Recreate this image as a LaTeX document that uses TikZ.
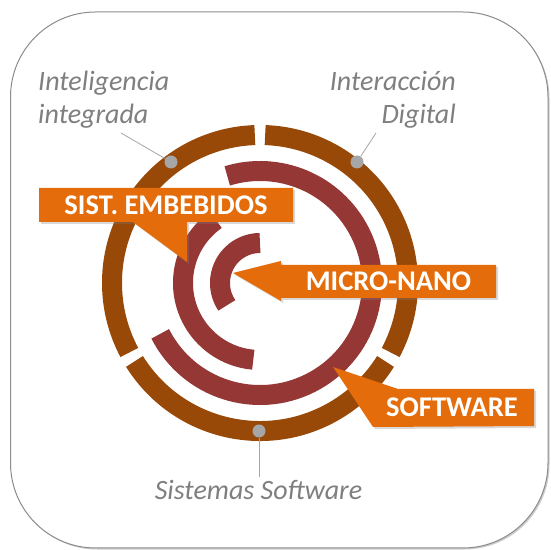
\documentclass[tikz,border=0pt]{standalone}
\usepackage{fontspec}
\setmainfont{Carlito}
\usetikzlibrary{shadows}
\definecolor{ringbrown}{HTML}{984807}
\definecolor{ringred}{HTML}{953735}
\definecolor{callorange}{HTML}{E46C0A}
\definecolor{labelgrey}{HTML}{7F7F7F}
\definecolor{dotgrey}{HTML}{A6A6A6}
\definecolor{framegrey}{HTML}{8C8C8C}
\begin{document}
\begin{tikzpicture}[x=1pt,y=1pt,
  ringarc/.style={line width=20pt},
  outerring/.style={ringarc, draw=ringbrown},
  innerring/.style={ringarc, draw=ringred},
  callout/.style={fill=callorange, drop shadow={shadow xshift=2pt, shadow yshift=-2pt, opacity=0.3}},
  calltext/.style={text=white, font=\fontsize{28.5}{32}\selectfont\bfseries, inner sep=0pt},
  greylabel/.style={text=labelgrey, font=\fontsize{28}{33}\selectfont\itshape, inner sep=0pt},
  greydot/.style={circle, fill=dotgrey, minimum size=13pt, inner sep=0pt},
  leader/.style={draw=dotgrey, line width=0.8pt}
]
\useasboundingbox (0,0) rectangle (550,550);
\fill[white] (0,0) rectangle (550,550);
\draw[framegrey, line width=1pt, fill=white, rounded corners=85pt,
  drop shadow={shadow xshift=1.5pt, shadow yshift=-1.5pt, opacity=0.4}] (10.5,2) rectangle (548,538);

\coordinate (c) at (260,267);
% outer ring segments
\draw[outerring] (c) ++(92:148) arc[start angle=92, end angle=208, radius=148];
\draw[outerring] (c) ++(212:148) arc[start angle=212, end angle=328, radius=148];
\draw[outerring] (c) ++(-28:148) arc[start angle=-28, end angle=88, radius=148];

% leaders and dots
\coordinate (l1) at (121,417);
\coordinate (l2) at (376,417);
\coordinate (l3) at (259,73);
\node[greydot] (d1) at (171,388) {};
\node[greydot] (d2) at (357,388) {};
\node[greydot] (d3) at (259,119) {};
\draw[leader] (d1) -- (l1);
\draw[leader] (d2) -- (l2);
\draw[leader] (d3) -- (l3);

% inner arcs
\draw[innerring] (c) ++(-153:112) arc[start angle=-153, end angle=107, radius=112];
\draw[innerring] (c) ++(125:77) arc[start angle=125, end angle=265, radius=77];
\draw[innerring] (c) ++(90:40) arc[start angle=90, end angle=214, radius=40];

% callouts
\fill[callout] (39,362) -- (293,362) -- (293,328) -- (187,328) -- (187,288) -- (133,328) -- (39,328) -- cycle;
\node[calltext] (emb) at (166,345) {SIST. EMBEBIDOS};
\fill[callout] (233,277) -- (281,289) -- (281,285) -- (496,285) -- (496,252) -- (281,252) -- (281,249) -- cycle;
\node[calltext] (micro) at (388.5,268.5) {MICRO-NANO};
\fill[callout] (333,183) -- (398,161) -- (534,161) -- (534,124) -- (373,123) -- cycle;
\node[calltext] (soft) at (452,142.5) {SOFTWARE};

% labels
\node[greylabel, anchor=base west] (intel1) at (38,459.5) {Inteligencia};
\node[greylabel, anchor=base west] (intel2) at (38,426.5) {integrada};
\node[greylabel, anchor=base east] (inter1) at (456,459.5) {Interacción};
\node[greylabel, anchor=base east] (inter2) at (456,426.5) {Digital};
\node[greylabel, anchor=base] (sistsw) at (258.5,50) {Sistemas Software};
\end{tikzpicture}
\end{document}
